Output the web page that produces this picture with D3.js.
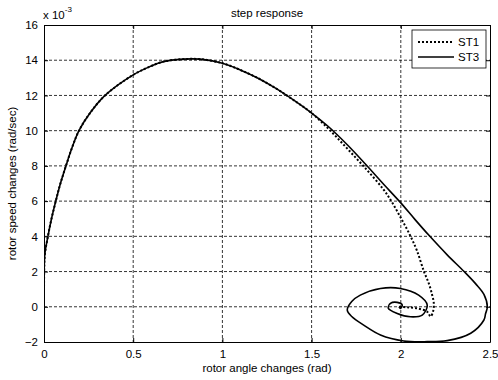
<!DOCTYPE html>
<html>
<head>
  <meta charset="utf-8">
  <title>step response</title>
  <script src="https://d3js.org/d3.v7.min.js"></script>
  <style>
    body { margin: 0; background: #fff; }
    text { font-family: "Liberation Sans", Arial, Helvetica, sans-serif; fill: #000; }
  </style>
</head>
<body>
  <div id="chart"></div>

  <script>
    // values; speed is in units of 1e-3 rad/sec
    var riseAngle = [0, 0.001, 0.005, 0.022, 0.042, 0.066, 0.092, 0.123, 0.156, 0.196, 0.258, 0.342,
      0.5, 0.594, 0.669, 0.78, 0.875, 1.0, 1.1, 1.2, 1.3, 1.4, 1.5];
    var riseSpeed = [0, 2, 3, 4, 5, 6, 7, 8, 9, 10, 11, 12,
      13.17, 13.64, 13.92, 14.06, 14.06, 13.83, 13.45, 12.98, 12.4, 11.73, 11.0];

    // ST3 after it leaves the shared rise
    var st3Angle = riseAngle.concat([1.6, 1.7, 1.8, 1.9, 2.0, 2.08, 2.163, 2.26, 2.355, 2.42, 2.466,
      2.485, 2.475, 2.466, 2.392, 2.26, 2.148, 2.017, 1.886, 1.792, 1.725, 1.70, 1.725, 1.773, 1.886,
      1.998, 2.1, 2.148, 2.12, 2.054, 1.98, 1.93, 1.942, 1.98, 2.008, 1.998, 1.99]);
    var st3Speed = riseSpeed.concat([10.18, 9.2, 8.12, 7.0, 5.9, 4.95, 4.0, 2.95, 2.0, 1.3, 0.7,
      0.0, -0.4, -0.75, -1.5, -1.92, -1.98, -1.94, -1.6, -1.04, -0.55, -0.19, 0.3, 0.66, 1.04,
      1.04, 0.66, 0.1, -0.47, -0.57, -0.38, -0.09, 0.19, 0.25, 0.1, -0.09, 0]);

    // ST1 after it leaves the shared rise
    var st1Angle = riseAngle.concat([1.6, 1.7, 1.8, 1.9, 1.95, 2.0, 2.05, 2.09, 2.13, 2.157, 2.175,
      2.185, 2.18, 2.167, 2.148, 2.092, 2.036, 1.99]);
    var st1Speed = riseSpeed.concat([10.05, 8.98, 7.88, 6.7, 5.95, 5.05, 4.1, 3.2, 2.0, 1.33, 0.7,
      0.19, -0.3, -0.55, -0.28, -0.09, -0.03, 0]);

    var xTicks = [0, 0.5, 1, 1.5, 2, 2.5];
    var yTicks = [-2, 0, 2, 4, 6, 8, 10, 12, 14, 16];
    var seriesNames = ['ST1', 'ST3'];

    var width = 498, height = 380;
    var margin = { top: 25, right: 8, bottom: 38, left: 44 };
    var w = width - margin.left - margin.right;
    var h = height - margin.top - margin.bottom;
    var fontSize = '11.5px';

    var svg = d3.select('#chart').append('svg')
      .attr('width', width)
      .attr('height', height);

    var g = svg.append('g')
      .attr('transform', 'translate(' + margin.left + ',' + margin.top + ')');

    var x = d3.scaleLinear().domain([0, 2.5]).range([0, w]);
    var y = d3.scaleLinear().domain([-2, 16]).range([h, 0]);
    var fmt = d3.format('~g');

    // grid
    g.append('g').selectAll('line')
      .data(xTicks.slice(1, -1))
      .enter().append('line')
      .attr('x1', function(d) { return x(d); })
      .attr('x2', function(d) { return x(d); })
      .attr('y1', 0).attr('y2', h)
      .attr('stroke', '#000').attr('stroke-width', 0.8)
      .attr('stroke-dasharray', '3,2');

    g.append('g').selectAll('line')
      .data(yTicks.slice(1, -1))
      .enter().append('line')
      .attr('y1', function(d) { return y(d); })
      .attr('y2', function(d) { return y(d); })
      .attr('x1', 0).attr('x2', w)
      .attr('stroke', '#000').attr('stroke-width', 0.8)
      .attr('stroke-dasharray', '3,2');

    // axes with inward ticks
    g.append('g')
      .attr('transform', 'translate(0,' + h + ')')
      .call(d3.axisBottom(x).tickValues(xTicks).tickFormat(fmt).tickSizeInner(-4).tickSizeOuter(0).tickPadding(8));
    g.append('g')
      .call(d3.axisLeft(y).tickValues(yTicks).tickFormat(fmt).tickSizeInner(-4).tickSizeOuter(0).tickPadding(6));
    g.append('g')
      .attr('transform', 'translate(' + w + ',0)')
      .call(d3.axisRight(y).tickValues(yTicks).tickSizeInner(-4).tickSizeOuter(0).tickFormat(''));
    g.append('g')
      .call(d3.axisTop(x).tickValues(xTicks).tickSizeInner(-4).tickSizeOuter(0).tickFormat(''));

    g.selectAll('.domain').attr('stroke', '#000');
    g.selectAll('.tick line').attr('stroke', '#000');
    g.selectAll('.tick text')
      .style('font-size', fontSize)
      .style('font-family', '"Liberation Sans", Arial, sans-serif');

    // curves
    var line = d3.line()
      .x(function(d) { return x(d[0]); })
      .y(function(d) { return y(d[1]); })
      .curve(d3.curveCatmullRom.alpha(0.5));

    svg.append('clipPath').attr('id', 'clip')
      .append('rect').attr('x', 0).attr('y', 0).attr('width', w).attr('height', h);

    var plot = g.append('g').attr('clip-path', 'url(#clip)');

    plot.append('path')
      .datum(d3.zip(st3Angle, st3Speed))
      .attr('d', line)
      .attr('fill', 'none')
      .attr('stroke', '#000')
      .attr('stroke-width', 1.6);

    plot.append('path')
      .datum(d3.zip(st1Angle, st1Speed))
      .attr('d', line)
      .attr('fill', 'none')
      .attr('stroke', '#000')
      .attr('stroke-width', 2)
      .attr('stroke-dasharray', '2,2');

    // texts
    svg.append('text')
      .attr('x', margin.left + w / 2)
      .attr('y', 17)
      .attr('text-anchor', 'middle')
      .style('font-size', fontSize)
      .text('step response');

    var expo = svg.append('text')
      .attr('x', 43)
      .attr('y', 19)
      .style('font-size', fontSize);
    expo.append('tspan').text('x 10');
    expo.append('tspan').attr('dy', -7).style('font-size', '8px').text('-3');

    svg.append('text')
      .attr('x', margin.left + w / 2)
      .attr('y', 372)
      .attr('text-anchor', 'middle')
      .style('font-size', fontSize)
      .text('rotor angle changes (rad)');

    svg.append('text')
      .attr('transform', 'rotate(-90)')
      .attr('x', -(margin.top + h / 2))
      .attr('y', 16)
      .attr('text-anchor', 'middle')
      .style('font-size', fontSize)
      .text('rotor speed changes (rad/sec)');

    // legend
    var legend = svg.append('g').attr('transform', 'translate(412,30)');
    legend.append('rect')
      .attr('width', 74).attr('height', 38)
      .attr('fill', '#fff').attr('stroke', '#000').attr('stroke-width', 0.8);

    seriesNames.forEach(function(name, i) {
      var ly = 12 + i * 15;
      legend.append('line')
        .attr('x1', 6).attr('x2', 42)
        .attr('y1', ly).attr('y2', ly)
        .attr('stroke', '#000')
        .attr('stroke-width', i === 0 ? 2 : 1.6)
        .attr('stroke-dasharray', i === 0 ? '2,2' : null);
      legend.append('text')
        .attr('x', 46).attr('y', ly + 4)
        .style('font-size', fontSize)
        .text(name);
    });
  </script>
</body>
</html>
